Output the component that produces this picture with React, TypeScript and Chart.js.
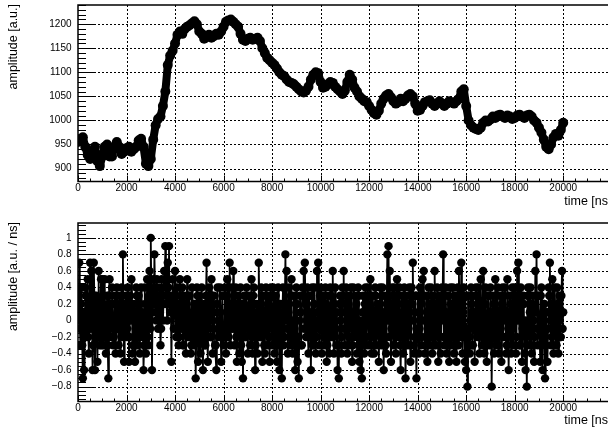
import { useEffect, useRef } from "react";
import { Chart, registerables } from "chart.js";

Chart.register(...registerables);

// Waveform sampled every 100 ns, from 0 to 20000 ns
const AMPLITUDE_STEP_NS = 100;
const AMPLITUDE = [
  955, 962, 965, 945, 928, 920, 935, 945, 915, 905,
  925, 945, 950, 925, 925, 945, 955, 945, 930, 935,
  942, 945, 935, 940, 945, 958, 962, 945, 910, 905,
  920, 960, 990, 1003, 1008, 1030, 1060, 1115, 1135, 1145,
  1160, 1178, 1185, 1180, 1190, 1195, 1198, 1202, 1206, 1200,
  1185, 1180, 1170, 1175, 1178, 1172, 1175, 1180, 1178, 1185,
  1195, 1205, 1208, 1210, 1205, 1200, 1195, 1180, 1168, 1165,
  1170, 1172, 1168, 1170, 1172, 1165, 1150, 1140, 1130, 1125,
  1120, 1115, 1108, 1100, 1095, 1092, 1085, 1080, 1078, 1075,
  1070, 1065, 1060, 1058, 1062, 1070, 1085, 1095, 1100, 1098,
  1080, 1068, 1070, 1075, 1080, 1078, 1070, 1065, 1060, 1055,
  1062, 1080, 1095, 1085, 1068, 1060, 1050, 1045, 1040, 1038,
  1030, 1022, 1015, 1012, 1020, 1035, 1045, 1052, 1055, 1048,
  1040, 1035, 1038, 1045, 1040, 1045, 1052, 1055, 1050, 1035,
  1020, 1022, 1030, 1038, 1040, 1042, 1035, 1030, 1035, 1040,
  1035, 1030, 1035, 1040, 1038, 1035, 1040, 1045, 1060, 1065,
  1030, 1000, 990, 985, 982, 980, 985, 995, 1000, 998,
  1002, 1008, 1005, 1010, 1012, 1008, 1005, 1010, 1008, 1003,
  1005, 1010, 1012, 1008, 1005, 1010, 1012, 1008, 1000, 995,
  985, 975, 960, 945, 940, 950, 965, 972, 968, 980,
  995,
];

// Derivative sampled every 25 ns, from 0 to 20000 ns (one row per microsecond)
const DERIVATIVE_STEP_NS = 25;
const DERIVATIVE = [
  0.1, 0, 0.7, -0.1, -0.3, 0.2, 0.4, -0.3, -0.7, 0.1, -0.6, -0.2, 0.4, 0.3, -0.2, 0, 0.5, -0.2, -0.4, 0.1, 0.7, -0.1, 0.6, 0.2, -0.6, -0.3, 0.7, 0.3, -0.6, 0, 0.3, -0.1, -0.5, 0.1, 0.6, -0.2, -0.3, 0.2, 0.5, -0.3,
  0.5, 0.2, -0.3, -0.2, 0.5, 0, -0.4, 0.1, 0.3, -0.3, -0.7, 0.3, 0.5, -0.1, -0.2, 0.2, 0.4, 0, -0.3, -0.2, 0.2, 0.3, -0.4, -0.1, 0.4, 0.1, -0.1, -0.3, 0.3, 0.2, -0.4, 0, 0.4, -0.2, 0.8, 0.1, -0.5, -0.1, 0.2, 0.3,
  -0.2, -0.1, 0.4, 0.3, -0.5, -0.2, 0.3, 0, 0.5, 0.2, -0.4, -0.3, 0.2, 0.1, -0.5, -0.1, 0.4, 0.3, -0.3, 0, 0.3, -0.2, -0.4, 0.2, 0.4, -0.1, -0.2, 0.1, -0.6, -0.3, 0.4, 0.2, -0.4, 0, 0.5, -0.2, -0.3, 0.3, 0.6, -0.1,
  1.0, 0.3, -0.6, 0.1, 0.5, 0.2, 0.8, 0.4, 0.1, 0, 0.5, 0.3, -0.1, 0.2, 0.4, 0.1, -0.3, -0.1, 0.5, 0.3, 0.0, 0.2, 0.6, 0.4, 0.9, 0.3, 0.2, 0, 0.7, 0.4, 0.9, 0.2, 0.1, 0.3, -0.5, 0.1, 0.5, 0.2, -0.1, 0.3,
  0.6, 0.1, -0.2, -0.1, 0.4, 0.2, -0.3, -0.2, 0.5, 0.3, -0.1, 0, 0.4, -0.3, -0.3, 0.1, 0.3, -0.1, -0.4, 0.2, 0.5, -0.2, -0.2, 0.3, 0.3, 0, -0.4, -0.3, 0.4, 0.1, -0.3, -0.1, 0.2, 0.2, -0.7, -0.2, 0.4, 0.3, -0.5, 0,
  0.3, 0.2, -0.4, -0.2, 0.4, 0, -0.6, 0.1, 0.2, -0.3, -0.3, 0.3, 0.7, -0.1, -0.5, 0.2, 0.4, 0, -0.2, -0.2, 0.5, 0.3, -0.4, -0.1, 0.3, 0.1, -0.3, -0.3, -0.6, 0.2, 0.4, 0, -0.2, -0.2, 0.4, 0.1, -0.5, -0.1, 0.3, 0.3,
  -0.3, -0.1, 0.4, 0.3, -0.4, -0.2, 0.5, 0, -0.2, 0.2, 0.7, -0.3, 0.1, 0.1, 0.4, -0.1, 0.6, 0.3, -0.3, 0, 0.4, -0.2, -0.5, 0.2, 0.3, -0.1, -0.4, 0.1, 0.4, -0.3, -0.5, 0.2, -0.7, 0, 0.3, -0.2, -0.2, 0.3, 0.4, -0.1,
  -0.4, 0.1, 0.3, -0.1, -0.3, 0.2, 0.5, -0.2, -0.4, 0.3, 0.4, 0, -0.6, -0.3, 0.2, 0.1, -0.4, -0.1, 0.7, 0.2, -0.2, -0.2, 0.4, 0.3, -0.5, 0, 0.3, -0.3, -0.4, 0.1, 0.4, -0.1, -0.3, 0.2, 0.3, -0.2, -0.5, 0.3, 0.4, 0,
  -0.3, 0, 0.4, -0.2, -0.4, 0.1, 0.3, -0.3, -0.5, 0.2, 0.4, -0.1, -0.6, 0, 0.2, -0.2, -0.7, 0.1, 0.4, -0.3, -0.2, 0.2, 0.8, 0, 0.6, -0.1, -0.4, 0.1, 0.4, -0.2, -0.3, 0.3, 0.5, -0.3, -0.4, 0, 0.3, -0.1, -0.6, 0.2,
  0.4, 0.2, -0.5, -0.2, -0.7, 0, 0.3, 0.1, -0.3, -0.3, 0.4, 0.3, 0.6, -0.1, 0.7, 0.2, -0.2, 0, 0.4, -0.2, -0.4, 0.3, 0.3, -0.1, -0.6, 0.1, 0.4, -0.3, -0.3, 0.2, 0.4, 0, -0.4, -0.2, 0.6, 0.1, 0.7, -0.1, -0.3, 0.3,
  0.4, -0.1, -0.4, 0.3, 0.3, -0.2, -0.3, 0, 0.4, 0.2, -0.5, -0.3, 0.3, 0.1, -0.4, -0.1, 0.4, 0.3, -0.2, 0, 0.6, -0.2, -0.4, 0.2, 0.4, -0.1, -0.3, 0.1, -0.6, -0.3, -0.7, 0.2, 0.3, 0, -0.4, -0.2, 0.4, 0.3, 0.6, -0.1,
  -0.3, 0.1, 0.4, -0.1, -0.4, 0.2, 0.3, -0.2, -0.3, 0.3, 0.4, 0, -0.5, -0.3, 0.4, 0.1, -0.2, -0.1, 0.3, 0.2, -0.4, -0.2, 0.4, 0.3, -0.5, 0, -0.6, -0.3, -0.7, 0.1, 0.3, -0.1, -0.4, 0.2, 0.4, -0.2, -0.3, 0.3, 0.4, 0,
  -0.3, 0.2, 0.5, -0.2, -0.4, 0, 0.3, 0.1, -0.4, -0.3, 0.4, 0.3, -0.3, -0.1, 0.2, 0.2, -0.5, 0, 0.4, -0.2, -0.3, 0.3, 0.4, -0.1, -0.6, 0.1, 0.3, -0.3, -0.4, 0.2, 0.8, 0, 0.9, -0.2, 0.6, 0.1, -0.5, -0.1, 0.4, 0.3,
  -0.3, -0.1, 0.4, 0.3, -0.4, -0.2, 0.5, 0, -0.2, 0.2, 0.4, -0.3, -0.6, 0.1, 0.3, -0.1, -0.4, 0.3, 0.4, 0, -0.7, -0.2, 0.3, 0.2, -0.3, -0.1, 0.4, 0.1, -0.5, -0.3, 0.4, 0.2, 0.7, 0, -0.4, -0.2, 0.3, 0.3, -0.7, -0.1,
  0.3, 0.1, -0.4, -0.1, 0.4, 0.2, -0.3, -0.2, 0.5, 0.3, 0.6, 0, -0.4, -0.3, 0.3, 0.1, -0.5, -0.1, 0.4, 0.2, -0.3, -0.2, 0.4, 0.3, -0.4, 0, 0.3, -0.3, 0.6, 0.1, -0.3, -0.1, 0.4, 0.2, -0.5, -0.2, 0.3, 0.3, -0.4, 0,
  0.4, 0.2, 0.8, -0.2, -0.3, 0, 0.4, 0.1, -0.4, -0.3, 0.3, 0.3, -0.5, -0.1, 0.4, 0.2, -0.3, 0, 0.4, -0.2, -0.4, 0.3, 0.3, -0.1, -0.5, 0.1, 0.4, -0.3, 0.6, 0.2, -0.2, 0, 0.7, -0.2, -0.4, 0.1, 0.4, -0.1, -0.5, 0.3,
  -0.6, -0.1, -0.8, 0.3, 0.3, -0.2, -0.4, 0, 0.4, 0.2, -0.3, -0.3, 0.3, 0.1, -0.5, -0.1, 0.4, 0.3, -0.2, 0, 0.4, -0.2, -0.4, 0.2, 0.5, -0.1, -0.3, 0.1, 0.6, -0.3, -0.4, 0.2, 0.4, 0, -0.5, -0.2, 0.3, 0.3, -0.3, -0.1,
  0.4, 0.1, -0.8, -0.1, 0.3, 0.2, -0.4, -0.2, 0.5, 0.3, -0.3, 0, 0.4, -0.3, -0.4, 0.1, 0.3, -0.1, -0.5, 0.2, 0.4, -0.2, -0.2, 0.3, 0.4, 0, -0.4, -0.3, 0.5, 0.1, -0.6, -0.1, 0.3, 0.2, -0.4, -0.2, 0.4, 0.3, -0.3, 0,
  0.4, 0.2, -0.4, -0.2, 0.6, 0, 0.7, 0.1, -0.3, -0.3, 0.4, 0.3, -0.5, -0.1, 0.3, 0.2, -0.4, 0, -0.6, -0.2, -0.8, 0.3, 0.4, -0.1, -0.3, 0.1, 0.4, -0.3, -0.4, 0.2, 0.3, 0, -0.5, -0.2, 0.6, 0.1, 0.8, -0.1, -0.3, 0.3,
  0.3, -0.1, -0.5, 0.3, 0.4, -0.2, -0.6, 0, 0.2, 0.2, -0.7, -0.3, 0.1, 0.1, -0.5, -0.1, 0.4, 0.3, 0.7, 0, -0.3, -0.2, 0.5, 0.2, -0.4, -0.1, 0.4, 0.1, -0.3, -0.3, 0.4, 0.2, -0.4, 0, 0.3, -0.2, -0.2, 0.3, 0.6, -0.1,
  0.1,
];

// Axis ticks and ranges
const TIME_TICKS = [0, 2000, 4000, 6000, 8000, 10000, 12000, 14000, 16000, 18000, 20000];
const TIME_RANGE = [0, 21990];
const AMPLITUDE_TICKS = [900, 950, 1000, 1050, 1100, 1150, 1200];
const AMPLITUDE_RANGE = [873, 1240];
const DERIVATIVE_TICKS = [-0.8, -0.6, -0.4, -0.2, 0, 0.2, 0.4, 0.6, 0.8, 1];
const DERIVATIVE_RANGE = [-0.98, 1.18];

const X_TITLE = "time [ns]";
const Y_TITLE_TOP = "amplitude [a.u.]";
const Y_TITLE_BOTTOM = "amplitude [a.u. / ns]";

const FONT = "'Liberation Sans', Arial, Helvetica, sans-serif";
const CANVAS_W = 624;
const FRAME_LEFT = 78;
const FRAME_RIGHT = 611.5;

type FrameOpts = {
  xMinor: number;
  yMinor: number;
  xTitle: string;
  yTitle: string;
  xTitleY: number;
  xLabelOffset: number;
};

const fmtNumber = (v: number) => {
  const r = Math.round(v * 100) / 100;
  if (r === 0) return "0";
  return (r < 0 ? "\u2212" : "") + String(Math.abs(r));
};

// ROOT-like frame: dotted grid, ticks drawn inward, labels and axis titles
const rootFrame = {
  id: "rootFrame",
  beforeDatasetsDraw(chart: any) {
    const { ctx, chartArea: a, scales } = chart;
    const x = scales.x;
    const y = scales.y;
    ctx.save();
    ctx.strokeStyle = "#000";
    ctx.lineWidth = 1;
    ctx.setLineDash([2, 2]);
    ctx.beginPath();
    for (const t of x.ticks) {
      const px = Math.round(x.getPixelForValue(t.value)) + 0.5;
      if (px <= a.left + 1.5) continue;
      ctx.moveTo(px, a.top);
      ctx.lineTo(px, a.bottom);
    }
    for (const t of y.ticks) {
      const py = Math.round(y.getPixelForValue(t.value)) + 0.5;
      ctx.moveTo(a.left, py);
      ctx.lineTo(a.right, py);
    }
    ctx.stroke();
    ctx.restore();
  },
  afterDatasetsDraw(chart: any, _a: any, opts: FrameOpts) {
    const { ctx, chartArea: a, scales } = chart;
    const x = scales.x;
    const y = scales.y;
    ctx.save();
    ctx.setLineDash([]);
    ctx.strokeStyle = "#000";
    ctx.lineWidth = 1;
    ctx.beginPath();
    // x ticks, pointing into the frame
    const nx = Math.floor((x.max - x.min) / opts.xMinor + 1e-6);
    for (let i = 0; i <= nx; i++) {
      const v = x.min + i * opts.xMinor;
      const isMajor = x.ticks.some((t: any) => Math.abs(t.value - v) < 1e-6);
      const px = Math.round(x.getPixelForValue(v)) + 0.5;
      ctx.moveTo(px, a.bottom);
      ctx.lineTo(px, a.bottom - (isMajor ? 6 : 3));
    }
    // y ticks, pointing into the frame
    const start = Math.ceil(y.min / opts.yMinor - 1e-6);
    const end = Math.floor(y.max / opts.yMinor + 1e-6);
    for (let k = start; k <= end; k++) {
      const v = k * opts.yMinor;
      const isMajor = y.ticks.some((t: any) => Math.abs(t.value - v) < 1e-6);
      const py = Math.round(y.getPixelForValue(v)) + 0.5;
      ctx.moveTo(a.left, py);
      ctx.lineTo(a.left + (isMajor ? 16 : 8), py);
    }
    ctx.stroke();

    // frame
    ctx.lineWidth = 1.5;
    ctx.strokeRect(a.left, a.top, a.right - a.left, a.bottom - a.top);

    // tick labels
    ctx.fillStyle = "#000";
    ctx.font = `10px ${FONT}`;
    ctx.textBaseline = "middle";
    ctx.textAlign = "center";
    for (const t of x.ticks) {
      ctx.fillText(String(t.value), x.getPixelForValue(t.value), a.bottom + opts.xLabelOffset);
    }
    ctx.textAlign = "right";
    for (const t of y.ticks) {
      ctx.fillText(fmtNumber(t.value), a.left - 6.5, y.getPixelForValue(t.value));
    }

    // axis titles
    ctx.font = `12.5px ${FONT}`;
    ctx.textAlign = "right";
    ctx.fillText(opts.xTitle, a.right, opts.xTitleY);
    ctx.translate(14, a.top - 1);
    ctx.rotate(-Math.PI / 2);
    ctx.fillText(opts.yTitle, 0, 0);
    ctx.restore();
  },
};

type PadSpec = {
  height: number;
  top: number;
  bottom: number;
  points: { x: number; y: number }[];
  yTicks: number[];
  yRange: number[];
  yMinor: number;
  yTitle: string;
  xTitleY: number;
  pointRadius: number;
  lineWidth: number;
};

function makeChart(canvas: HTMLCanvasElement, p: PadSpec) {
  return new Chart(canvas, {
    type: "line",
    data: {
      datasets: [
        {
          data: p.points,
          borderColor: "#000",
          backgroundColor: "#000",
          borderWidth: p.lineWidth,
          borderJoinStyle: "round",
          borderCapStyle: "round",
          pointRadius: p.pointRadius,
          pointBorderWidth: 0,
          pointBackgroundColor: "#000",
          pointHoverRadius: p.pointRadius,
          tension: 0,
          fill: false,
        },
      ],
    },
    options: {
      animation: false,
      responsive: false,
      events: [],
      layout: {
        padding: { left: 0, right: CANVAS_W - FRAME_RIGHT, top: p.top, bottom: 0 },
      },
      plugins: {
        legend: { display: false },
        tooltip: { enabled: false },
        rootFrame: {
          xMinor: 500,
          yMinor: p.yMinor,
          xTitle: X_TITLE,
          yTitle: p.yTitle,
          xTitleY: p.xTitleY,
          xLabelOffset: 6.5,
        },
      } as any,
      scales: {
        x: {
          type: "linear",
          min: TIME_RANGE[0],
          max: TIME_RANGE[1],
          grid: { display: false, drawTicks: false },
          border: { display: false },
          afterBuildTicks: (s: any) => {
            s.ticks = TIME_TICKS.map((value) => ({ value }));
          },
          afterFit: (s: any) => {
            s.height = p.height - p.bottom;
          },
          ticks: { display: false },
        },
        y: {
          type: "linear",
          min: p.yRange[0],
          max: p.yRange[1],
          grid: { display: false, drawTicks: false },
          border: { display: false },
          afterBuildTicks: (s: any) => {
            s.ticks = p.yTicks.map((value) => ({ value }));
          },
          afterFit: (s: any) => {
            s.width = FRAME_LEFT;
          },
          ticks: { display: false },
        },
      },
    },
    plugins: [rootFrame],
  });
}

export default function App() {
  const topRef = useRef<HTMLCanvasElement>(null);
  const bottomRef = useRef<HTMLCanvasElement>(null);

  useEffect(() => {
    const amplitudePoints = AMPLITUDE.map((y, i) => ({ x: i * AMPLITUDE_STEP_NS, y }));
    const derivativePoints = DERIVATIVE.map((y, i) => ({ x: i * DERIVATIVE_STEP_NS, y }));
    const top = makeChart(topRef.current!, {
      height: 215,
      top: 4,
      bottom: 181.5,
      points: amplitudePoints,
      yTicks: AMPLITUDE_TICKS,
      yRange: AMPLITUDE_RANGE,
      yMinor: 10,
      yTitle: Y_TITLE_TOP,
      xTitleY: 202,
      pointRadius: 5,
      lineWidth: 8,
    });
    const bottom = makeChart(bottomRef.current!, {
      height: 218,
      top: 8,
      bottom: 186.5,
      points: derivativePoints,
      yTicks: DERIVATIVE_TICKS,
      yRange: DERIVATIVE_RANGE,
      yMinor: 0.05,
      yTitle: Y_TITLE_BOTTOM,
      xTitleY: 206,
      pointRadius: 4.2,
      lineWidth: 1.8,
    });
    return () => {
      top.destroy();
      bottom.destroy();
    };
  }, []);

  return (
    <div
      style={{
        position: "fixed",
        left: 0,
        top: 0,
        width: 608,
        height: 433,
        overflow: "hidden",
        background: "#fff",
      }}
    >
      <canvas ref={topRef} width={CANVAS_W} height={215} style={{ display: "block" }} />
      <canvas ref={bottomRef} width={CANVAS_W} height={218} style={{ display: "block" }} />
    </div>
  );
}
